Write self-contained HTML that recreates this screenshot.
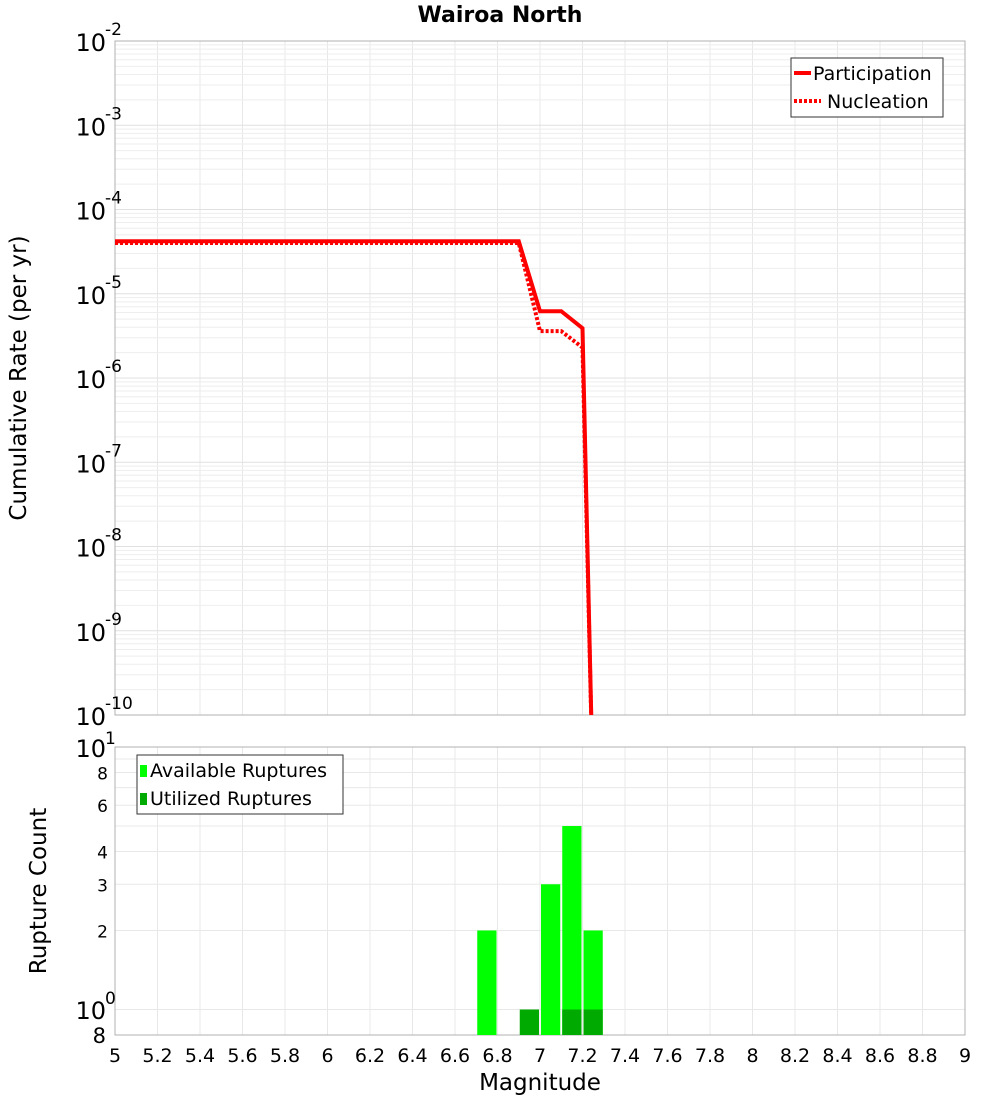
<!DOCTYPE html>
<html><head><meta charset="utf-8"><style>
body{margin:0;background:#fff;font-family:"DejaVu Sans","Liberation Sans",sans-serif;}
svg text{font-family:"DejaVu Sans","Liberation Sans",sans-serif;}
</style></head><body>
<svg id="chart" width="1000" height="1100" xmlns="http://www.w3.org/2000/svg">
<text x="500" y="22" text-anchor="middle" font-size="22" font-weight="bold">Wairoa North</text>
<g id="grid1"></g><g id="grid2"></g>
<rect x="115" y="41" width="850" height="674" fill="none" stroke="#b0b0b0"/>
<rect x="115" y="747" width="850" height="288" fill="none" stroke="#b0b0b0"/>
<g id="bars"></g><g id="lines"></g><g id="axes"></g>
<text transform="translate(26,378) rotate(-90)" text-anchor="middle" font-size="23">Cumulative Rate (per yr)</text>
<text transform="translate(46,891) rotate(-90)" text-anchor="middle" font-size="23">Rupture Count</text>
<text x="540" y="1090" text-anchor="middle" font-size="23">Magnitude</text>
<g>
<rect x="791" y="58" width="152" height="59" fill="#fff" stroke="#333"/>
<line x1="794" y1="73" x2="811" y2="73" stroke="#f00" stroke-width="4"/>
<text x="813" y="80" font-size="19">Participation</text>
<line x1="794" y1="101" x2="821" y2="101" stroke="#f00" stroke-width="4" stroke-dasharray="3,2"/>
<text x="827" y="108" font-size="19">Nucleation</text>
</g>
<g>
<rect x="137" y="755" width="206" height="59" fill="#fff" stroke="#333"/>
<rect x="140" y="765" width="7" height="12" fill="#00ff00"/>
<text x="150" y="777" font-size="19">Available Ruptures</text>
<rect x="140" y="793" width="7" height="12" fill="#00aa00"/>
<text x="150" y="805" font-size="19">Utilized Ruptures</text>
</g>
</svg>
<script>
const mags=[5.0,6.9,7.0,7.1,7.2,7.25];
const partRates=[4.2e-5,4.2e-5,6.2e-6,6.2e-6,3.9e-6,1e-11];
const nuclRates=[4.0e-5,4.0e-5,3.6e-6,3.6e-6,2.3e-6,1e-11];
const barMags=[6.75,7.05,7.15,7.25];
const availCounts=[2,3,5,2];
const usedMags=[6.95,7.15,7.25];
const usedCounts=[1,1,1];
const xTicks=["5","5.2","5.4","5.6","5.8","6","6.2","6.4","6.6","6.8","7","7.2","7.4","7.6","7.8","8","8.2","8.4","8.6","8.8","9"];
const topExps=[-2,-3,-4,-5,-6,-7,-8,-9,-10];
const botTicks=["8","6","4","3","2"];
const NS="http://www.w3.org/2000/svg";
const X=m=>115+(m-5)*212.5;
const Y1=v=>41+(-2-Math.log10(v))*84.25;
const Y2=v=>747+(1-Math.log10(v))*262.5;
function mk(t,a,p){const e=document.createElementNS(NS,t);for(const k in a)e.setAttribute(k,a[k]);document.getElementById(p).appendChild(e);return e;}
for(let i=0;i<xTicks.length;i++){const x=X(+xTicks[i]);
 let g=mk('line',{x1:x,x2:x,y1:41,y2:715,stroke:'#e8e8e8'},'grid1');
 
 
 g=mk('line',{x1:x,x2:x,y1:747,y2:1035,stroke:'#e8e8e8'},'grid2');
 
 
 const t=mk('text',{x:x,y:1062,'text-anchor':'middle','font-size':'19'},'axes');t.textContent=xTicks[i];
 
 
}
for(let e=-10;e<-2;e++)for(let k=1;k<10;k++){const y=Y1(k*Math.pow(10,e));
 const g=mk('line',{x1:115,x2:965,y1:y,y2:y,stroke:k==1?'#e0e0e0':'#eeeeee'},'grid1');
 
 }
for(const e of topExps){const y=Y1(Math.pow(10,e));
 const t=mk('text',{x:106,y:y+10,'text-anchor':'end','font-size':'24'},'axes');t.textContent='10';
 
 
 const s=mk('text',{x:105,y:y-6,'font-size':'17'},'axes');s.textContent=String(e);
 
 }
for(let v=1;v<=10;v++){const y=Y2(v);
 const g=mk('line',{x1:115,x2:965,y1:y,y2:y,stroke:'#e8e8e8'},'grid2');
 
 }
for(const l of botTicks){const y=Y2(+l);
 const t=mk('text',{x:108,y:y+7,'text-anchor':'end','font-size':'17'},'axes');t.textContent=l;
 
 }
let t=mk('text',{x:106,y:757,'text-anchor':'end','font-size':'24'},'axes');t.textContent='10';

t=mk('text',{x:105,y:744,'font-size':'17'},'axes');t.textContent='1';

t=mk('text',{x:106,y:1019,'text-anchor':'end','font-size':'24'},'axes');t.textContent='10';

t=mk('text',{x:105,y:1004,'font-size':'17'},'axes');t.textContent='0';

t=mk('text',{x:106,y:1043,'text-anchor':'end','font-size':'21'},'axes');t.textContent='8';

const defs=mk('defs',{},'lines');const cp=document.createElementNS(NS,'clipPath');cp.setAttribute('id','c1');defs.appendChild(cp);
const r=document.createElementNS(NS,'rect');r.setAttribute('x',115);r.setAttribute('y',41);r.setAttribute('width',850);r.setAttribute('height',674);cp.appendChild(r);
function line(rates,dash,name){const pts=mags.map((m,i)=>X(m)+','+Y1(rates[i])).join(' ');
 const a={points:pts,fill:'none',stroke:'#f00','stroke-width':4,'clip-path':'url(#c1)'};if(dash)a['stroke-dasharray']='3,2';
 const p=mk('polyline',a,'lines');
 
 }
line(nuclRates,true,'nucleation-line');
line(partRates,false,'participation-line');
const base=1035,w=21.25;
barMags.forEach((m,i)=>{const y=Y2(availCounts[i]);
 const b=mk('rect',{x:X(m)-w/2+1,y:y,width:w-2,height:base-y,fill:'#00ff00'},'bars');
 
 });
usedMags.forEach((m,i)=>{const y=Y2(usedCounts[i]);
 const b=mk('rect',{x:X(m)-w/2+1,y:y,width:w-2,height:base-y,fill:'#00aa00'},'bars');
 
 });
</script>
</body></html>
